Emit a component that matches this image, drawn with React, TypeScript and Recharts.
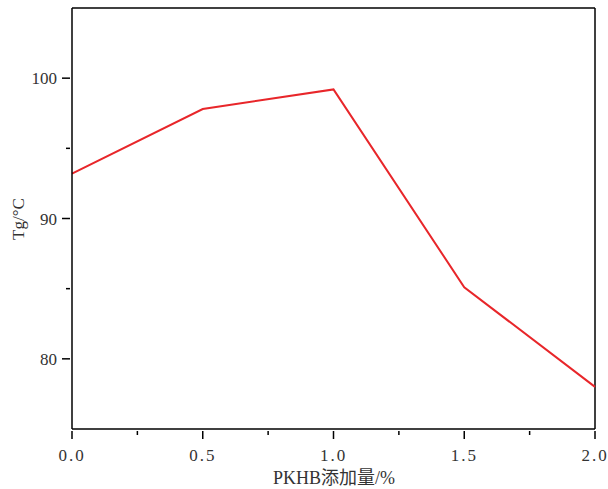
import React from 'react';
import { LineChart, Line, XAxis, YAxis, ReferenceLine } from 'recharts';

const additions = [0, 0.5, 1.0, 1.5, 2.0];
const tgValues = [93.2, 97.8, 99.2, 85.1, 78.0];
const xTicks = [0, 0.25, 0.5, 0.75, 1.0, 1.25, 1.5, 1.75, 2.0];
const xLabeled = [0, 0.5, 1.0, 1.5, 2.0];
const yTicks = [80, 85, 90, 95, 100];
const yLabeled = [80, 90, 100];

const data = additions.map((x, i) => ({ x, tg: tgValues[i] }));

const FONT = '"Liberation Serif", "DejaVu Serif", "Noto Sans CJK SC", serif';

function XTick(props: any) {
  const { x, y, payload } = props;
  const major = xLabeled.includes(payload.value);
  return (
    <g>
      <line x1={x} x2={x} y1={y} y2={y + (major ? 8 : 4)} stroke="#000" strokeWidth={1.5} />
      {major && (
        <text x={x} y={y + 30} textAnchor="middle" fontSize={17} fill="#333" fontFamily={FONT} letterSpacing={2}>
          {payload.value.toFixed(1)}
        </text>
      )}
    </g>
  );
}

function YTick(props: any) {
  const { x, y, payload } = props;
  const major = yLabeled.includes(payload.value);
  return (
    <g>
      <line x1={x} x2={x - (major ? 8 : 4)} y1={y} y2={y} stroke="#000" strokeWidth={1.5} />
      {major && (
        <text x={x - 13} y={y + 6} textAnchor="end" fontSize={17} fill="#333" fontFamily={FONT}>
          {payload.value}
        </text>
      )}
    </g>
  );
}

export default function App() {
  return (
    <div style={{ position: 'relative', width: 608, height: 489, background: '#fff' }}>
      <style>{`body{margin:0}`}</style>
      <LineChart width={608} height={489} data={data} margin={{ top: 8, right: 13, left: 0, bottom: 0 }}>
        <XAxis
          dataKey="x"
          type="number"
          domain={[0, 2]}
          ticks={xTicks}
          interval={0}
          height={60}
          tickSize={0}
          tickLine={false}
          tick={<XTick />}
          axisLine={{ stroke: '#000', strokeWidth: 1.5 }}
        />
        <YAxis
          type="number"
          domain={[75, 105]}
          ticks={yTicks}
          interval={0}
          width={72}
          tickSize={0}
          tickLine={false}
          tick={<YTick />}
          axisLine={{ stroke: '#000', strokeWidth: 1.5 }}
        />
        <ReferenceLine y={105} stroke="#000" strokeWidth={1.5} />
        <ReferenceLine x={2} stroke="#000" strokeWidth={1.5} />
        <Line
          type="linear"
          dataKey="tg"
          stroke="#e8262a"
          strokeWidth={2}
          dot={false}
          isAnimationActive={false}
        />
      </LineChart>
      <div
        style={{
          position: 'absolute',
          left: 0,
          top: 468,
          width: 668,
          textAlign: 'center',
          fontFamily: FONT,
          fontSize: 18,
          color: '#333',
          lineHeight: '20px',
        }}
      >
        PKHB添加量/%
      </div>
      <div
        style={{
          position: 'absolute',
          left: 19,
          top: 219,
          transform: 'translate(-50%, -50%) rotate(-90deg)',
          fontFamily: FONT,
          fontSize: 17,
          color: '#333',
          whiteSpace: 'nowrap',
          lineHeight: '20px',
        }}
      >
        Tg/°C
      </div>
    </div>
  );
}
